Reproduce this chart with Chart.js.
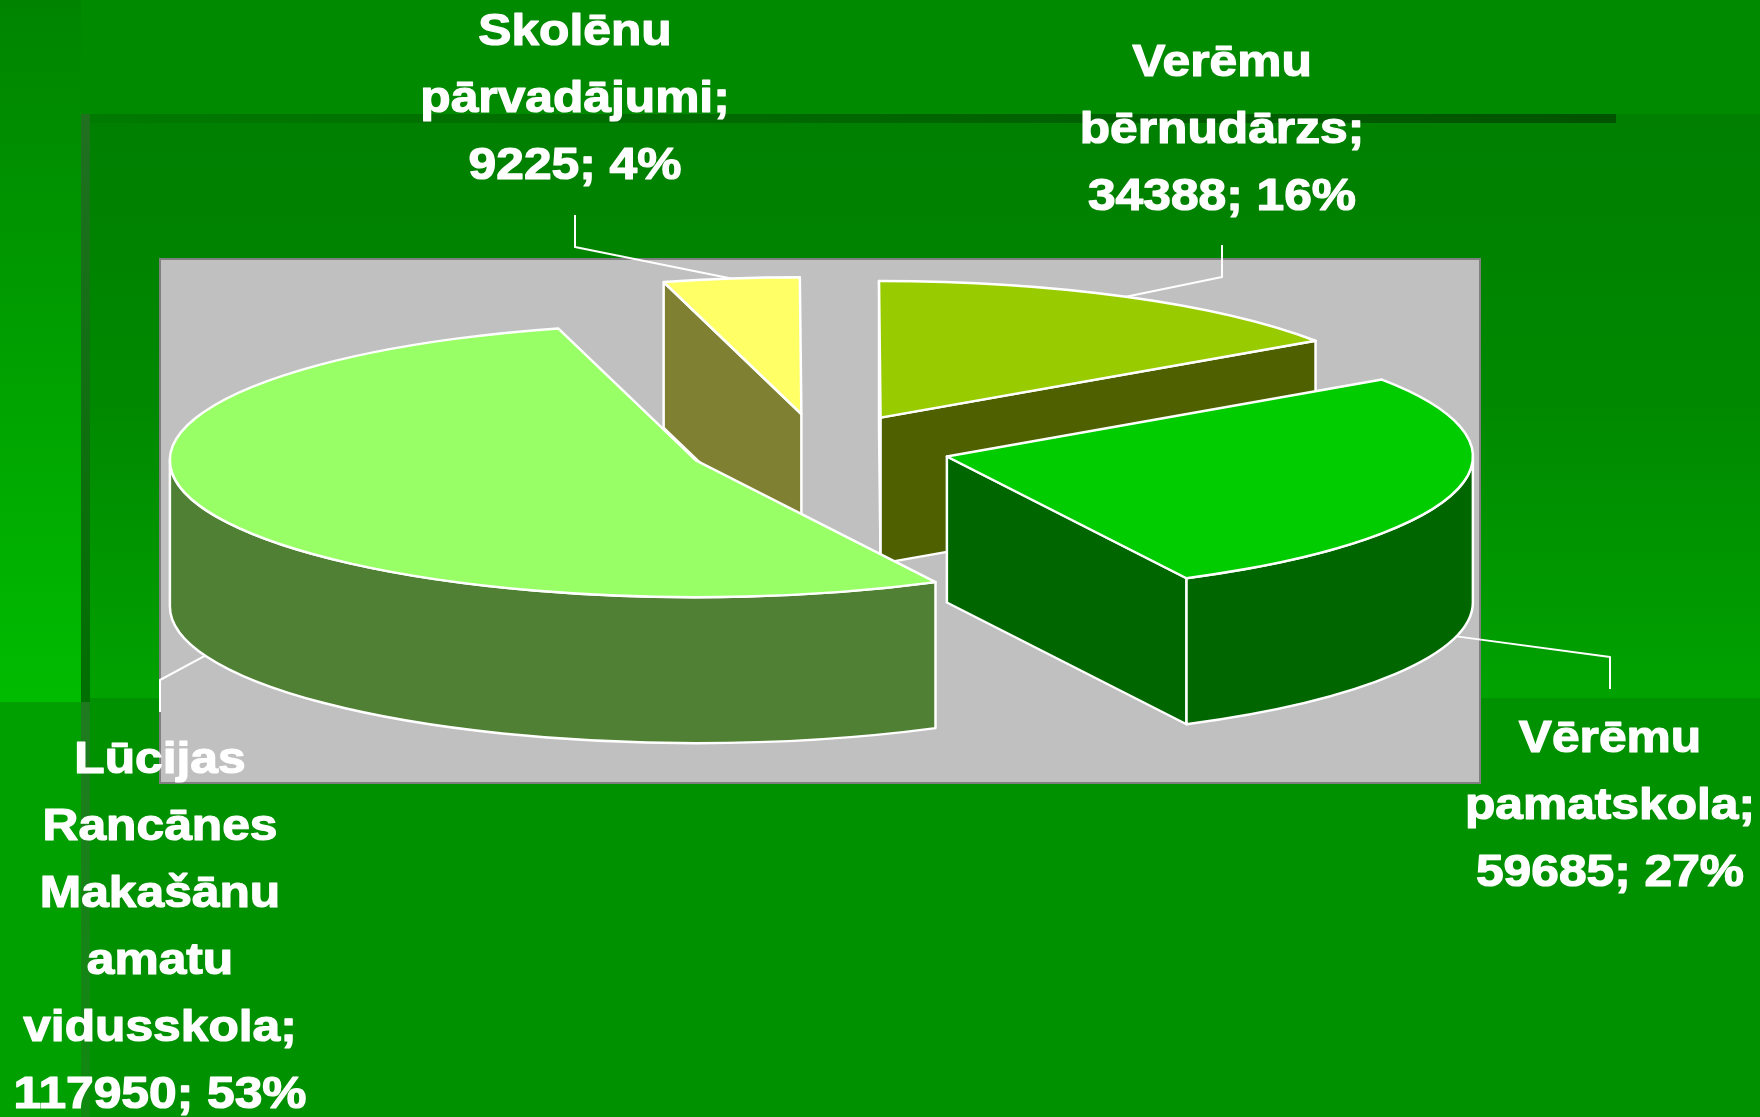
<!DOCTYPE html>
<html>
<head>
<meta charset="utf-8">
<style>
  html, body { margin: 0; padding: 0; background: #009000; }
  canvas { display: block; }
</style>
<script src="https://cdn.jsdelivr.net/npm/chart.js@4"></script>
</head>
<body>
<canvas id="pieChart" width="1760" height="1117"></canvas>
<script>
// data
const categories = [
    ['Lūcijas', 'Rancānes', 'Makašānu', 'amatu', 'vidusskola;'],
    ['Skolēnu', 'pārvadājumi;'],
    ['Verēmu', 'bērnudārzs;'],
    ['Vērēmu', 'pamatskola;']
]
const values = [117950, 9225, 34388, 59685]
const percents = [53, 4, 16, 27]

const topColors = ['#99FF66', '#FFFF66', '#99CC00', '#00CC00']
const sideColors = ['#508033', '#808033', '#4F6000', '#006600']

// layout of the labels: centre x, first baseline, elbow y, free end of the leader
const labelX = [160, 575, 1222, 1610]
const labelY = [773, 45, 76, 752]
const elbowY = [680, 247, 277, 657]
const leaderEnd = [712, 215, 245, 689]

const squash = 0.26
const depth = 146
const explode = 132
const lineHeight = 66.9

function drawBackground(c) {
    let g = c.createLinearGradient(0, 0, 0, 702)
    g.addColorStop(0, '#008400')
    g.addColorStop(0.16, '#008c00')
    g.addColorStop(1, '#00bc00')
    c.fillStyle = g
    c.fillRect(0, 0, 81, 702)

    c.fillStyle = '#008a00'
    c.fillRect(81, 0, 1679, 114)

    g = c.createLinearGradient(0, 114, 0, 698)
    g.addColorStop(0, '#007f00')
    g.addColorStop(0.5, '#008900')
    g.addColorStop(1, '#00a200')
    c.fillStyle = g
    c.fillRect(81, 114, 1679, 584)

    c.fillStyle = '#00a000'
    c.fillRect(0, 702, 81, 415)
    c.fillStyle = '#009100'
    c.fillRect(81, 698, 1679, 419)

    // shadow strips of the slide template
    g = c.createLinearGradient(0, 114, 0, 702)
    g.addColorStop(0, '#207020')
    g.addColorStop(1, '#006e00')
    c.fillStyle = g
    c.fillRect(81, 114, 9, 588)
    g = c.createLinearGradient(0, 702, 0, 1117)
    g.addColorStop(0, '#1f7a1f')
    g.addColorStop(1, '#0f8a0f')
    c.fillStyle = g
    c.fillRect(81, 702, 9, 415)
    g = c.createLinearGradient(90, 0, 1616, 0)
    g.addColorStop(0, '#007a00')
    g.addColorStop(1, '#005300')
    c.fillStyle = g
    c.fillRect(90, 114, 1526, 9)

    // plot area
    c.fillStyle = '#C0C0C0'
    c.fillRect(159, 258, 1321, 525)
    c.strokeStyle = '#808080'
    c.lineWidth = 2
    c.strokeRect(160, 259, 1320, 524)
}

// centre of a slice after it was pulled out of the pie
function sliceCentre(arc) {
    const mid = (arc.startAngle + arc.endAngle) / 2
    return {
        x: arc.x + Math.cos(mid) * explode,
        y: arc.y + Math.sin(mid) * explode * squash
    }
}

function drawWalls(c, arc, colour) {
    const p = sliceCentre(arc)
    const r = arc.outerRadius
    const ry = r * squash
    const rim = a => ({ x: p.x + Math.cos(a) * r, y: p.y + Math.sin(a) * ry })

    c.fillStyle = colour
    c.strokeStyle = '#FFFFFF'
    c.lineWidth = 2.5
    c.lineJoin = 'round'

    // flat cut faces that look to the viewer
    const cuts = []
    if (Math.cos(arc.startAngle) < 0) cuts.push(arc.startAngle)
    if (Math.cos(arc.endAngle) > 0) cuts.push(arc.endAngle)
    cuts.forEach(a => {
        const e = rim(a)
        c.beginPath()
        c.moveTo(p.x, p.y)
        c.lineTo(e.x, e.y)
        c.lineTo(e.x, e.y + depth)
        c.lineTo(p.x, p.y + depth)
        c.closePath()
        c.fill()
        c.stroke()
    })

    // round outer wall, only the front half of the ellipse shows
    const spans = [[0, Math.PI], [Math.PI * 2, Math.PI * 3]]
    spans.forEach(s => {
        const a0 = Math.max(arc.startAngle, s[0])
        const a1 = Math.min(arc.endAngle, s[1])
        if (a1 <= a0) return
        c.beginPath()
        c.ellipse(p.x, p.y, r, ry, 0, a0, a1)
        c.ellipse(p.x, p.y + depth, r, ry, 0, a1, a0, true)
        c.closePath()
        c.fill()
        c.stroke()
    })
}

function drawTop(c, arc) {
    const p = sliceCentre(arc)
    c.save()
    c.translate(p.x, p.y)
    c.scale(1, squash)
    c.translate(-arc.x, -arc.y)
    arc.draw(c)
    c.beginPath()
    c.moveTo(arc.x, arc.y)
    c.arc(arc.x, arc.y, arc.outerRadius, arc.startAngle, arc.endAngle)
    c.closePath()
    c.restore()
    c.strokeStyle = '#FFFFFF'
    c.lineWidth = 2.5
    c.lineJoin = 'round'
    c.stroke()
}

function drawLabel(c, arc, i) {
    const p = sliceCentre(arc)
    const mid = (arc.startAngle + arc.endAngle) / 2
    const x = p.x + Math.cos(mid) * arc.outerRadius
    let y = p.y + Math.sin(mid) * arc.outerRadius * squash
    if (Math.sin(mid) > 0) y += depth

    c.strokeStyle = '#FFFFFF'
    c.lineWidth = 2
    c.beginPath()
    c.moveTo(x, y)
    c.lineTo(labelX[i], elbowY[i])
    c.lineTo(labelX[i], leaderEnd[i])
    c.stroke()

    const lines = categories[i].concat(values[i] + '; ' + percents[i] + '%')
    c.fillStyle = '#FFFFFF'
    c.strokeStyle = '#FFFFFF'
    c.lineWidth = 1.2
    c.lineJoin = 'round'
    c.font = 'bold 44px "Liberation Sans"'
    c.textAlign = 'center'
    c.textBaseline = 'alphabetic'
    lines.forEach((line, n) => {
        c.save()
        c.translate(labelX[i], labelY[i] + n * lineHeight)
        c.scale(1.13, 1)
        c.fillText(line, 0, 0)
        c.strokeText(line, 0, 0)
        c.restore()
    })
}

const pie3d = {
    id: 'pie3d',
    beforeDraw(chart) {
        drawBackground(chart.ctx)
    },
    beforeDatasetDraw(chart, args) {
        const c = chart.ctx
        const arcs = args.meta.data
        // back slices first
        const order = arcs.map((_, i) => i).sort((a, b) => {
            const ma = (arcs[a].startAngle + arcs[a].endAngle) / 2
            const mb = (arcs[b].startAngle + arcs[b].endAngle) / 2
            return Math.sin(ma) - Math.sin(mb)
        })
        order.forEach(i => {
            drawWalls(c, arcs[i], sideColors[i])
            drawTop(c, arcs[i])
        })
        return false
    },
    afterDatasetsDraw(chart) {
        chart.getDatasetMeta(0).data.forEach((arc, i) => drawLabel(chart.ctx, arc, i))
    }
}

const ctx = document.getElementById('pieChart')

const chart = new Chart(ctx, {
    type: 'pie',
    data: {
        labels: categories.map(l => l.join(' ')),
        datasets: [{
            data: values,
            backgroundColor: topColors,
            borderWidth: 0
        }]
    },
    options: {
        responsive: false,
        animation: false,
        rotation: 152.9,
        radius: 526,
        layout: {
            padding: { left: 0, top: 0, right: 122, bottom: 221 }
        },
        plugins: {
            legend: { display: false },
            tooltip: { enabled: false }
        }
    },
    plugins: [pie3d]
})
</script>
</body>
</html>
